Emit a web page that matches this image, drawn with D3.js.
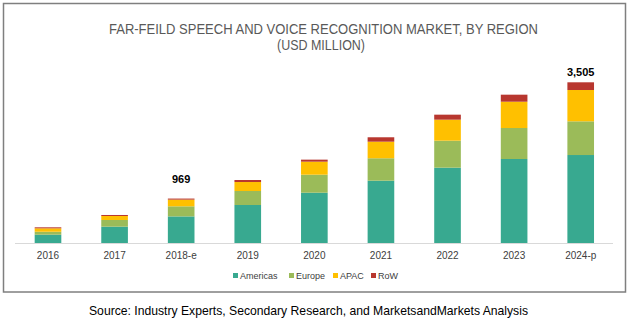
<!DOCTYPE html>
<html><head><meta charset="utf-8">
<script src="https://cdn.jsdelivr.net/npm/d3@7"></script>
<style>body{margin:0;background:#fff}svg{display:block}</style>
</head><body><svg id="c" width="631" height="324"></svg>
<script>
const years = ["2016","2017","2018-e","2019","2020","2021","2022","2023","2024-p"];
const seriesNames = ["Americas","Europe","APAC","RoW"];
const americas = [181, 356, 580, 829, 1097, 1359, 1643, 1832, 1919];
const europe   = [65, 146, 220, 305, 393, 489, 589, 676, 735];
const apac     = [74, 87, 146, 196, 284, 362, 458, 574, 683];
const row      = [22, 22, 23, 44, 44, 96, 109, 153, 168];
const totalLabels = {"2018-e":"969","2024-p":"3,505"};
const colors = ["#38A990","#9BBB59","#FFC000","#B8372F"];
const labelGap = {"2018-e":16,"2024-p":6.5};

const svg = d3.select("#c");
const data = years.map((y,i)=>({year:y,Americas:americas[i],Europe:europe[i],APAC:apac[i],RoW:row[i]}));
const stack = d3.stack().keys(seriesNames)(data);

const x = d3.scaleBand().domain(years).range([14.7,614]).paddingInner(0.6).paddingOuter(0.3);
const y = d3.scaleLinear().domain([0,3505]).range([243,82.3]);

// frame
svg.append("rect").attr("x",3.5).attr("y",3.5).attr("width",622).attr("height",288.5)
  .attr("fill","none").attr("stroke","#7f7f7f").attr("stroke-width",1.5);

const sans = "'Liberation Sans',Arial,sans-serif";
svg.append("text").attr("x",323.5).attr("y",33.5).attr("text-anchor","middle")
  .attr("font-family",sans).attr("font-size",15.5).attr("fill","#595959")
  .attr("textLength",429).attr("lengthAdjust","spacingAndGlyphs")
  .text("FAR-FEILD SPEECH AND VOICE RECOGNITION MARKET, BY REGION");
svg.append("text").attr("x",321).attr("y",50).attr("text-anchor","middle")
  .attr("font-family",sans).attr("font-size",15.5).attr("fill","#595959")
  .attr("textLength",88).attr("lengthAdjust","spacingAndGlyphs")
  .text("(USD MILLION)");

stack.forEach((s,k)=>{
  svg.append("g").attr("fill",colors[k]).selectAll("rect").data(s).join("rect")
    .attr("x",d=>x(d.data.year)).attr("width",x.bandwidth())
    .attr("y",d=>y(d[1])).attr("height",d=>y(d[0])-y(d[1]));
});

// axis
const ax = svg.append("g").attr("transform","translate(0,243.5)")
  .call(d3.axisBottom(x).tickSize(0).tickPadding(8));
ax.select(".domain").attr("stroke","#d9d9d9").attr("d","M15,0H613");
ax.selectAll("text").attr("font-family",sans).attr("font-size",10).attr("fill","#404040");

// total labels
const totals = data.map(d=>({year:d.year,t:d.Americas+d.Europe+d.APAC+d.RoW}));
svg.append("g").selectAll("text").data(totals.filter(d=>totalLabels[d.year])).join("text")
  .attr("x",d=>x(d.year)+x.bandwidth()/2).attr("y",d=>y(d.t)-labelGap[d.year])
  .attr("text-anchor","middle").attr("font-family",sans)
  .attr("font-weight","bold").attr("font-size",11).attr("fill","#000")
  .text(d=>totalLabels[d.year]);

// legend
const legX = [233, 289, 333, 371];
const lg = svg.append("g").selectAll("g").data(seriesNames).join("g")
  .attr("transform",(d,i)=>`translate(${legX[i]},276)`);
lg.append("rect").attr("x",0).attr("y",-3).attr("width",5).attr("height",5).attr("fill",(d,i)=>colors[i]);
lg.append("text").attr("x",7).attr("y",3).attr("font-family",sans)
  .attr("font-size",9).attr("fill","#404040").text(d=>d);

svg.append("text").attr("x",308.5).attr("y",315).attr("text-anchor","middle")
  .attr("font-family",sans).attr("font-size",12.2).attr("fill","#000")
  .attr("textLength",439).attr("lengthAdjust","spacingAndGlyphs")
  .text("Source: Industry Experts, Secondary Research, and MarketsandMarkets Analysis");
</script></body></html>
